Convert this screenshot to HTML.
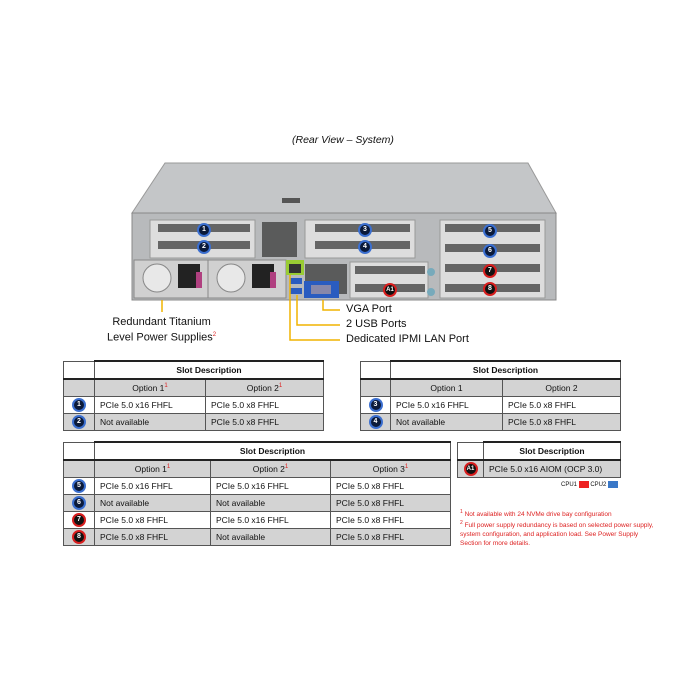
<!DOCTYPE html>
<html><head><meta charset="utf-8"><style>
body{margin:0;width:689px;height:685px;background:#fff;position:relative;overflow:hidden;font-family:"Liberation Sans",sans-serif;}
.t{position:absolute;border-collapse:collapse;table-layout:fixed;font-size:8.5px;color:#111}
.t td{border:1px solid #555;height:16px;padding:0 0 0 5px;white-space:nowrap}
.t tr.h td{border-top:2px solid #222;font-weight:bold;text-align:center;font-size:8.5px;padding:0}
.t tr.o td{background:#d3d3d3;text-align:center;padding:0;border-top:2px solid #222}
.t tr.g td{background:#d3d3d3}
.t td.b{padding:0;text-align:center}
sup{color:#d22;font-size:6px}
.bd{display:inline-block;width:10px;height:10px;border-radius:50%;background:#0b1a3a;border:2px solid #3b6fd0;color:#fff;font-size:7px;font-weight:bold;line-height:10px;text-align:center;vertical-align:middle}
.bd.r{background:#111;border-color:#d81e1e}
.lab{position:absolute;font-size:11px;color:#111;white-space:nowrap}
</style></head><body>
<div class="lab" style="left:292px;top:134px;font-style:italic;font-size:10.5px">(Rear View – System)</div>
<svg width="689" height="360" style="position:absolute;left:0;top:0">
<polygon points="165,163 528,163 556,213 132,213" fill="#c4c6c8" stroke="#999"/>
<rect x="132" y="213" width="424" height="87" fill="#b8babc" stroke="#888"/>
<rect x="282" y="198" width="18" height="5" fill="#555"/>
<g fill="#ddd" stroke="#999">
<rect x="150" y="220" width="105" height="38"/><rect x="305" y="220" width="110" height="38"/><rect x="440" y="220" width="105" height="78"/>
<rect x="350" y="262" width="78" height="36"/>
</g>
<g fill="#333" opacity=".7">
<rect x="158" y="224" width="92" height="8"/><rect x="158" y="241" width="92" height="8"/>
<rect x="315" y="224" width="95" height="8"/><rect x="315" y="241" width="95" height="8"/>
<rect x="445" y="224" width="95" height="8"/><rect x="445" y="244" width="95" height="8"/><rect x="445" y="264" width="95" height="8"/><rect x="445" y="284" width="95" height="8"/>
<rect x="355" y="266" width="70" height="8"/><rect x="355" y="284" width="70" height="8"/>
<rect x="262" y="222" width="35" height="35"/><rect x="305" y="264" width="42" height="30"/>
</g>
<rect x="134" y="260" width="78" height="38" fill="#d0d0d0" stroke="#888"/>
<rect x="208" y="260" width="78" height="38" fill="#d0d0d0" stroke="#888"/>
<circle cx="157" cy="278" r="14" fill="#e8e8e8" stroke="#888"/><circle cx="231" cy="278" r="14" fill="#e8e8e8" stroke="#888"/>
<rect x="178" y="264" width="22" height="24" fill="#222"/><rect x="252" y="264" width="22" height="24" fill="#222"/>
<rect x="196" y="272" width="6" height="16" fill="#b04080"/><rect x="270" y="272" width="6" height="16" fill="#b04080"/>
<rect x="286" y="260" width="18" height="15" fill="#9c3" /><rect x="289" y="264" width="12" height="9" fill="#333"/>
<rect x="290" y="278" width="12" height="6" fill="#2a5cc0"/><rect x="290" y="288" width="12" height="6" fill="#2a5cc0"/>
<rect x="304" y="281" width="35" height="17" fill="#2a5cc0"/><rect x="311" y="285" width="20" height="9" fill="#88a"/>
<circle cx="431" cy="272" r="4" fill="#7ab"/><circle cx="431" cy="292" r="4" fill="#7ab"/>
<g stroke="#f0b400" stroke-width="1.5" fill="none">
<polyline points="162,300 162,312"/>
<polyline points="290,275 290,340 340,340"/>
<polyline points="297,295 297,325 340,325"/>
<polyline points="323,300 323,310 340,310"/>
</g>
</svg>
<div class="bd" style="position:absolute;left:197px;top:223px">1</div>
<div class="bd" style="position:absolute;left:197px;top:240px">2</div>
<div class="bd" style="position:absolute;left:358px;top:223px">3</div>
<div class="bd" style="position:absolute;left:358px;top:240px">4</div>
<div class="bd" style="position:absolute;left:483px;top:224px">5</div>
<div class="bd" style="position:absolute;left:483px;top:244px">6</div>
<div class="bd r" style="position:absolute;left:483px;top:264px">7</div>
<div class="bd r" style="position:absolute;left:483px;top:282px">8</div>
<div class="bd r" style="position:absolute;left:383px;top:283px;font-size:6px">A1</div>
<div class="lab" style="left:346px;top:303px">VGA Port</div>
<div class="lab" style="left:346px;top:318px">2 USB Ports</div>
<div class="lab" style="left:346px;top:333px">Dedicated IPMI LAN Port</div>
<div class="lab" style="left:107px;top:316px;text-align:center;line-height:13px">Redundant Titanium<br>Level Power Supplies<sup>2</sup></div>

<table class="t" style="left:63px;top:360px;width:261px">
<col style="width:31px"><col style="width:111px"><col>
<tr class="h"><td style="border-top:1px solid #555"></td><td colspan="2">Slot Description</td></tr>
<tr class="o"><td></td><td>Option 1<sup>1</sup></td><td>Option 2<sup>1</sup></td></tr>
<tr><td class="b"><span class="bd">1</span></td><td>PCIe 5.0 x16 FHFL</td><td>PCIe 5.0 x8 FHFL</td></tr>
<tr class="g"><td class="b"><span class="bd">2</span></td><td>Not available</td><td>PCIe 5.0 x8 FHFL</td></tr>
</table>
<table class="t" style="left:360px;top:360px;width:261px">
<col style="width:30px"><col style="width:112px"><col>
<tr class="h"><td style="border-top:1px solid #555"></td><td colspan="2">Slot Description</td></tr>
<tr class="o"><td></td><td>Option 1</td><td>Option 2</td></tr>
<tr><td class="b"><span class="bd">3</span></td><td>PCIe 5.0 x16 FHFL</td><td>PCIe 5.0 x8 FHFL</td></tr>
<tr class="g"><td class="b"><span class="bd">4</span></td><td>Not available</td><td>PCIe 5.0 x8 FHFL</td></tr>
</table>
<table class="t" style="left:63px;top:441px;width:388px">
<col style="width:31px"><col style="width:116px"><col style="width:120px"><col>
<tr class="h"><td style="border-top:1px solid #555"></td><td colspan="3">Slot Description</td></tr>
<tr class="o"><td></td><td>Option 1<sup>1</sup></td><td>Option 2<sup>1</sup></td><td>Option 3<sup>1</sup></td></tr>
<tr><td class="b"><span class="bd">5</span></td><td>PCIe 5.0 x16 FHFL</td><td>PCIe 5.0 x16 FHFL</td><td>PCIe 5.0 x8 FHFL</td></tr>
<tr class="g"><td class="b"><span class="bd">6</span></td><td>Not available</td><td>Not available</td><td>PCIe 5.0 x8 FHFL</td></tr>
<tr><td class="b"><span class="bd r">7</span></td><td>PCIe 5.0 x8 FHFL</td><td>PCIe 5.0 x16 FHFL</td><td>PCIe 5.0 x8 FHFL</td></tr>
<tr class="g"><td class="b"><span class="bd r">8</span></td><td>PCIe 5.0 x8 FHFL</td><td>Not available</td><td>PCIe 5.0 x8 FHFL</td></tr>
</table>
<table class="t" style="left:457px;top:441px;width:164px">
<col style="width:26px"><col>
<tr class="h"><td style="border-top:1px solid #555"></td><td>Slot Description</td></tr>
<tr class="g"><td class="b" style="border-top:2px solid #222"><span class="bd r" style="font-size:6px">A1</span></td><td style="border-top:2px solid #222">PCIe 5.0 x16 AIOM (OCP 3.0)</td></tr>
</table>
<div class="lab" style="left:561px;top:481px;font-size:6px">CPU1 <span style="display:inline-block;width:10px;height:7px;background:#e22;vertical-align:middle"></span> CPU2 <span style="display:inline-block;width:10px;height:7px;background:#3a78c8;vertical-align:middle"></span></div>
<div class="lab" style="left:460px;top:508px;font-size:6.5px;color:#d22;line-height:9px;white-space:normal;width:200px"><sup style="font-size:5px">1</sup> Not available with 24 NVMe drive bay configuration<br><sup style="font-size:5px">2</sup> Full power supply redundancy is based on selected power supply, system configuration, and application load. See Power Supply Section for more details.</div>
</body></html>
